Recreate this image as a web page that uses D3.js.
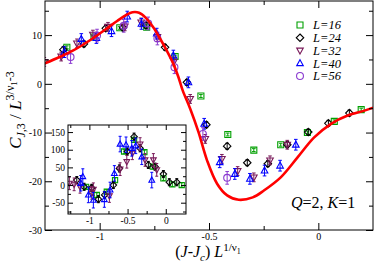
<!DOCTYPE html>
<html><head><meta charset="utf-8">
<script src="https://cdn.jsdelivr.net/npm/d3@7"></script>
<style>body{margin:0;background:#fff}svg{display:block}text{font-family:"Liberation Serif","Times New Roman",serif}</style>
</head><body>
<svg id="c" width="374" height="267"></svg>
<script>
// ---------- data ----------
const seriesNames = ["L=16", "L=24", "L=32", "L=40", "L=56"];
const seriesColors = ["#00a000", "#000000", "#7a1a5a", "#0000ff", "#8a3ad0"];
const seriesShapes = ["square", "diamond", "tridown", "triup", "circle"];

const main16 = [[-1.150,7.5],[-1.026,9.6],[-0.908,11.5],[-0.785,11.6],[-0.655,5.6],[-0.537,-2.5],[-0.414,-10.4],[-0.295,-13.6],[-0.172,-12.5],[-0.05,-10.0],[0.073,-7.7],[0.196,-5.3]];
const main24 = [[-1.166,7.0],[-1.072,8.2],[-0.972,11.4],[-0.893,11.5],[-0.788,12.0],[-0.701,7.5],[-0.601,0.3],[-0.512,-8.4],[-0.417,-12.8],[-0.325,-16.2],[-0.231,-16.4],[-0.142,-12.5],[-0.046,-9.9],[0.046,-8.1],[0.142,-6.0]];
const main32 = [[-1.253,4.5],[-1.176,5.6],[-1.104,8.3],[-1.031,10.1],[-0.962,11.7],[-0.885,11.8],[-0.81,12.6],[-0.736,9.6],[-0.66,4.6],[-0.586,-3.1],[-0.517,-11.3],[-0.441,-15.4],[-0.369,-17.9],[-0.295,-19.2],[-0.221,-15.7],[-0.142,-12.5]];
const main40 = [[-1.161,6.5],[-1.084,9.2],[-1.015,9.4],[-0.946,10.8],[-0.874,13.8],[-0.809,12.3],[-0.739,10.3],[-0.663,5.8],[-0.594,0.3],[-0.522,-8.2],[-0.451,-16.1],[-0.382,-18.5],[-0.313,-19.5],[-0.246,-17.8],[-0.175,-16.8],[-0.103,-12.5]];
const main56 = [[-1.133,5.5],[-1.012,9.9],[-0.89,11.9],[-0.778,12.4],[-0.736,9.3],[-0.658,3.4],[-0.528,-10.3],[-0.417,-19.3]];
const mainErr = [0.3, 0.6, 0.9, 1.1, 1.3];

const inset16 = [[-1.043,-5],[-0.903,-28],[-0.772,-19],[-0.664,14],[-0.546,95],[-0.415,128],[-0.280,93],[-0.170,52],[-0.031,19],[0.086,2],[0.209,0]];
const inset24 = [[-1.165,14],[-1.069,-5],[-0.97,-8],[-0.882,-40],[-0.80,-28],[-0.686,0],[-0.607,47],[-0.503,95],[-0.415,137],[-0.336,104],[-0.228,57],[-0.140,52],[-0.031,31],[0.047,8],[0.144,8]];
const inset32 = [[-1.262,5],[-1.20,2],[-1.122,-5],[-0.969,-22],[-0.948,-12],[-0.738,-31],[-0.598,45],[-0.510,66],[-0.437,90],[-0.336,116],[-0.271,71],[-0.162,71],[-0.118,43]];
const inset40 = [[-1.113,5],[-1.086,24],[-1.013,-28],[-0.948,-43],[-0.804,-41],[-0.729,-14],[-0.673,33],[-0.598,116],[-0.520,114],[-0.445,104],[-0.393,111],[-0.314,80],[-0.183,14]];
const insetErr = [6, 10, 18, 22];

const curve = [[-1.25,4.2],[-1.184,5.5],[-1.123,6.8],[-1.046,8.9],[-0.969,11.3],[-0.92,12.9],[-0.88,14.1],[-0.85,14.7],[-0.82,14.6],[-0.79,13.6],[-0.755,11.6],[-0.724,9.3],[-0.693,6.8],[-0.663,4.1],[-0.640,1.4],[-0.620,-1.4],[-0.586,-5.1],[-0.548,-9.9],[-0.509,-15.7],[-0.463,-20.5],[-0.417,-22.9],[-0.364,-23.8],[-0.30,-23.3],[-0.249,-21.9],[-0.172,-19.2],[-0.095,-15.1],[-0.019,-11.0],[0.058,-8.2],[0.134,-6.5],[0.211,-5.5],[0.25,-4.9]];

const mainXTicks = [-1, -0.5, 0], mainXMinor = [-0.75, -0.25];
const mainYTicks = [-30, -20, -10, 0, 10], mainYMinor = [-25, -15, -5, 5, 15];
const insetXTicks = [-1, -0.5, 0], insetXMinor = [-1.25, -0.75, -0.25];
const insetYTicks = [-50, 0, 50, 100, 150], insetYMinor = [-75, -25, 25, 75, 125];

// ---------- drawing ----------
const svg = d3.select("#c");
const M = {l:45, r:373, t:1, b:230};
const x = d3.scaleLinear().domain([-1.25, 0.25]).range([M.l, M.r]);
const y = d3.scaleLinear().domain([-30, 17]).range([M.b, M.t]);
const I = {l:68, r:186, t:125, b:214};
const xi = d3.scaleLinear().domain([-1.28, 0.265]).range([I.l, I.r]);
const yi = d3.scaleLinear().domain([-82, 170]).range([I.b, I.t]);

function symPath(shape, s) {
  switch (shape) {
    case "square": return `M${-s},${-s}H${s}V${s}H${-s}Z`;
    case "diamond": return `M0,${-s*1.25}L${s*1.25},0L0,${s*1.25}L${-s*1.25},0Z`;
    case "triup": return `M0,${-s*1.2}L${s*1.1},${s*0.8}L${-s*1.1},${s*0.8}Z`;
    case "tridown": return `M0,${s*1.2}L${s*1.1},${-s*0.8}L${-s*1.1},${-s*0.8}Z`;
    case "circle": return d3.arc()({innerRadius:0, outerRadius:s*1.15, startAngle:0, endAngle:2*Math.PI});
  }
}

function frameAxes(g, xs, ys, xt, xm, yt, ym, box, majLen, minLen, fs, ylPad) {
  const mk = (axis, tr, vals, len, labels) => {
    const a = axis.tickValues(vals).tickSizeInner(-len).tickSizeOuter(0).tickPadding(ylPad);
    if (!labels) a.tickFormat("");
    const gg = g.append("g").attr("transform", tr).call(a);
    gg.select(".domain").remove();
    gg.selectAll("line").attr("stroke", "#000").attr("stroke-width", 1);
    gg.selectAll("text").attr("font-size", fs).attr("fill", "#000").attr("font-family", "Liberation Serif");
    return gg;
  };
  const fmt = d => d3.format("")(d).replace("−", "-");
  mk(d3.axisBottom(xs).tickFormat(fmt), `translate(0,${box.b})`, xt, majLen, true);
  mk(d3.axisBottom(xs), `translate(0,${box.b})`, xm, minLen, false);
  mk(d3.axisTop(xs), `translate(0,${box.t})`, xt, majLen, false);
  mk(d3.axisTop(xs), `translate(0,${box.t})`, xm, minLen, false);
  mk(d3.axisLeft(ys).tickFormat(fmt), `translate(${box.l},0)`, yt, majLen, true);
  mk(d3.axisLeft(ys), `translate(${box.l},0)`, ym, minLen, false);
  mk(d3.axisRight(ys), `translate(${box.r},0)`, yt, majLen, false);
  mk(d3.axisRight(ys), `translate(${box.r},0)`, ym, minLen, false);
  g.append("rect").attr("x", box.l).attr("y", box.t).attr("width", box.r - box.l).attr("height", box.b - box.t)
    .attr("fill", "none").attr("stroke", "#000").attr("stroke-width", 1);
}

function drawSeries(g, xs, ys, data, err, color, shape, s, cap) {
  const sg = g.append("g");
  sg.selectAll("line.e").data(data).join("line")
    .attr("x1", d => xs(d[0])).attr("x2", d => xs(d[0]))
    .attr("y1", d => ys(d[1] - err)).attr("y2", d => ys(d[1] + err))
    .attr("stroke", color).attr("stroke-width", 1);
  [-1, 1].forEach(k => {
    sg.selectAll(null).data(data).join("line")
      .attr("x1", d => xs(d[0]) - cap).attr("x2", d => xs(d[0]) + cap)
      .attr("y1", d => ys(d[1] + k*err)).attr("y2", d => ys(d[1] + k*err))
      .attr("stroke", color).attr("stroke-width", 1);
  });
  sg.selectAll("path").data(data).join("path")
    .attr("d", symPath(shape, s))
    .attr("transform", d => `translate(${xs(d[0])},${ys(d[1])})`)
    .attr("fill", "none").attr("stroke", color).attr("stroke-width", 1.1);
}

const mainG = svg.append("g");
svg.append("clipPath").attr("id", "cm").append("rect")
  .attr("x", M.l).attr("y", M.t).attr("width", M.r - M.l).attr("height", M.b - M.t);

const dataG = mainG.append("g").attr("clip-path", "url(#cm)");
const mains = [main16, main24, main32, main40, main56];
mains.forEach((d, i) => drawSeries(dataG, x, y, d, mainErr[i], seriesColors[i], seriesShapes[i], 3, 1.8));

dataG.append("path").datum(curve)
  .attr("d", d3.line().x(d => x(d[0])).y(d => y(d[1])).curve(d3.curveCatmullRom.alpha(0.5)))
  .attr("fill", "none").attr("stroke", "#ff0000").attr("stroke-width", 2.6);

frameAxes(mainG, x, y, mainXTicks, mainXMinor, mainYTicks, mainYMinor, M, 7, 4, 10, 3);

// legend
const leg = svg.append("g");
seriesNames.forEach((n, i) => {
  const cy = 25 + i * 12.75;
  leg.append("path").attr("d", symPath(seriesShapes[i], 3)).attr("transform", `translate(300,${cy})`)
    .attr("fill", "none").attr("stroke", seriesColors[i]).attr("stroke-width", 1.1);
  leg.append("text").attr("x", 313).attr("y", cy + 4.3).attr("font-size", 12.5)
    .attr("font-style", "italic").text(n);
});

// Q=2, K=1
const qt = svg.append("text").attr("x", 291).attr("y", 208).attr("font-size", 16);
qt.append("tspan").attr("font-style", "italic").text("Q");
qt.append("tspan").text("=2, ");
qt.append("tspan").attr("font-style", "italic").text("K");
qt.append("tspan").text("=1");

// axis labels
const yl = svg.append("text").attr("transform", "translate(21,110) rotate(-90)").attr("text-anchor", "middle").attr("font-size", 17);
yl.append("tspan").attr("font-style", "italic").text("C");
yl.append("tspan").attr("font-size", 12).attr("dy", 4).attr("font-style", "italic").text("J");
yl.append("tspan").attr("font-size", 12).text(",3");
yl.append("tspan").attr("dy", -4).text(" / ");
yl.append("tspan").attr("font-style", "italic").text("L");
yl.append("tspan").attr("font-size", 12).attr("dy", -7).text("3/ν");
yl.append("tspan").attr("font-size", 9).attr("dy", 3).text("1");
yl.append("tspan").attr("font-size", 12).attr("dy", -3).text("-3");

const xl = svg.append("text").attr("x", 208).attr("y", 257).attr("text-anchor", "middle").attr("font-size", 16);
xl.append("tspan").text("(");
xl.append("tspan").attr("font-style", "italic").text("J");
xl.append("tspan").text("-");
xl.append("tspan").attr("font-style", "italic").text("J");
xl.append("tspan").attr("font-style", "italic").attr("font-size", 11).attr("dy", 4).text("c");
xl.append("tspan").attr("dy", -4).text(") ");
xl.append("tspan").attr("font-style", "italic").text("L");
xl.append("tspan").attr("font-size", 11).attr("dy", -6).text("1/ν");
xl.append("tspan").attr("font-size", 8).attr("dy", 3).text("1");

// inset
const inG = svg.append("g");
inG.append("rect").attr("x", I.l).attr("y", I.t).attr("width", I.r - I.l).attr("height", I.b - I.t).attr("fill", "#fff");
svg.append("clipPath").attr("id", "ci").append("rect")
  .attr("x", I.l).attr("y", I.t).attr("width", I.r - I.l).attr("height", I.b - I.t);
const inData = inG.append("g").attr("clip-path", "url(#ci)");
[inset16, inset24, inset32, inset40].forEach((d, i) =>
  drawSeries(inData, xi, yi, d, insetErr[i], seriesColors[i], seriesShapes[i], 2.6, 1.5));
frameAxes(inG, xi, yi, insetXTicks, insetXMinor, insetYTicks, insetYMinor, I, 5, 3, 9.5, 3);
</script>
</body></html>
